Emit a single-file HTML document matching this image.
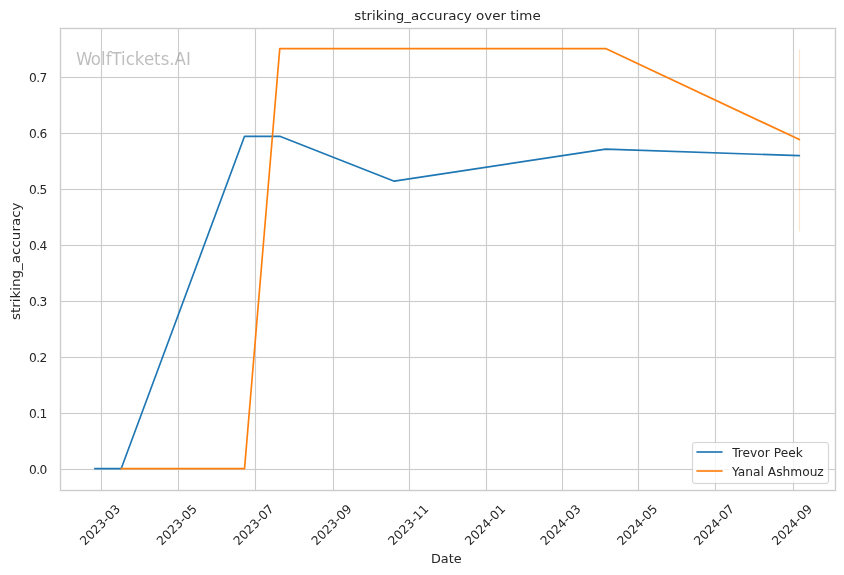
<!DOCTYPE html>
<html lang="en">
<head>
<meta charset="utf-8">
<title>striking_accuracy over time</title>
<style>
html,body{margin:0;padding:0;background:#fff;overflow:hidden;}
svg{display:block;}
text{font-family:"DejaVu Sans","Liberation Sans",sans-serif;fill:#262626;}
.t{font-size:12.222px;}
.l{font-size:13.15px;}
.y{letter-spacing:-0.5px;}
.g{fill:#ccc;shape-rendering:crispEdges;}
.h{fill:#ccc;fill-opacity:0.06;shape-rendering:crispEdges;}
.ln{fill:none;stroke-width:1.667;stroke-linecap:round;stroke-linejoin:round;}
</style>
</head>
<body>
<svg width="844" height="575" viewBox="0 0 844 575">
<rect x="0" y="0" width="844" height="575" fill="#ffffff"/>
<g class="h">
<rect x="100" y="29" width="3" height="461"/>
<rect x="177" y="29" width="3" height="461"/>
<rect x="254" y="29" width="3" height="461"/>
<rect x="332" y="29" width="3" height="461"/>
<rect x="408" y="29" width="3" height="461"/>
<rect x="485" y="29" width="3" height="461"/>
<rect x="561" y="29" width="3" height="461"/>
<rect x="637" y="29" width="3" height="461"/>
<rect x="714" y="29" width="3" height="461"/>
<rect x="792" y="29" width="3" height="461"/>
<rect x="61" y="468" width="774" height="3"/>
<rect x="61" y="412" width="774" height="3"/>
<rect x="61" y="356" width="774" height="3"/>
<rect x="61" y="300" width="774" height="3"/>
<rect x="61" y="244" width="774" height="3"/>
<rect x="61" y="188" width="774" height="3"/>
<rect x="61" y="132" width="774" height="3"/>
<rect x="61" y="76" width="774" height="3"/>
</g>
<g class="g">
<rect x="101" y="29" width="1" height="461"/>
<rect x="178" y="29" width="1" height="461"/>
<rect x="255" y="29" width="1" height="461"/>
<rect x="333" y="29" width="1" height="461"/>
<rect x="409" y="29" width="1" height="461"/>
<rect x="486" y="29" width="1" height="461"/>
<rect x="562" y="29" width="1" height="461"/>
<rect x="638" y="29" width="1" height="461"/>
<rect x="715" y="29" width="1" height="461"/>
<rect x="793" y="29" width="1" height="461"/>
<rect x="61" y="469" width="774" height="1"/>
<rect x="61" y="413" width="774" height="1"/>
<rect x="61" y="357" width="774" height="1"/>
<rect x="61" y="301" width="774" height="1"/>
<rect x="61" y="245" width="774" height="1"/>
<rect x="61" y="189" width="774" height="1"/>
<rect x="61" y="133" width="774" height="1"/>
<rect x="61" y="77" width="774" height="1"/>
</g>
<g class="t">
<text transform="translate(85.00 545.88) rotate(-45)">2023-03</text>
<text transform="translate(161.74 545.88) rotate(-45)">2023-05</text>
<text transform="translate(238.49 545.88) rotate(-45)">2023-07</text>
<text transform="translate(316.49 545.88) rotate(-45)">2023-09</text>
<text transform="translate(393.23 545.88) rotate(-45)">2023-11</text>
<text transform="translate(469.98 545.88) rotate(-45)">2024-01</text>
<text transform="translate(545.47 545.88) rotate(-45)">2024-03</text>
<text transform="translate(622.21 545.88) rotate(-45)">2024-05</text>
<text transform="translate(698.96 545.88) rotate(-45)">2024-07</text>
<text transform="translate(776.96 545.88) rotate(-45)">2024-09</text>
<text class="y" text-anchor="end" x="46.82" y="474.32">0.0</text>
<text class="y" text-anchor="end" x="46.82" y="418.32">0.1</text>
<text class="y" text-anchor="end" x="46.82" y="362.32">0.2</text>
<text class="y" text-anchor="end" x="46.82" y="306.32">0.3</text>
<text class="y" text-anchor="end" x="46.82" y="250.32">0.4</text>
<text class="y" text-anchor="end" x="46.82" y="194.32">0.5</text>
<text class="y" text-anchor="end" x="46.82" y="138.32">0.6</text>
<text class="y" text-anchor="end" x="46.82" y="82.32">0.7</text>
</g>
<text class="l" text-anchor="middle" transform="translate(446.25 563.41) scale(0.975 1)">Date</text>
<text class="l" text-anchor="middle" transform="translate(20.23 261.26) rotate(-90) scale(1.024 1)">striking_accuracy</text>
<rect x="799" y="49.5" width="1" height="182" fill="#ff7f0e" fill-opacity="0.192"/>
<rect x="798" y="49.5" width="3" height="182" fill="#ff7f0e" fill-opacity="0.012"/>
<polyline class="ln" stroke="#1f77b4" points="94.82,468.57 121.24,468.57 244.54,136.33 279.77,136.33 394.25,181.18 605.62,149.15 799.37,155.65"/>
<polyline class="ln" stroke="#ff7f0e" points="121.24,468.57 244.54,468.57 279.77,48.57 605.62,48.57 799.37,139.57"/>
<rect x="60.5" y="28.5" width="775" height="462" fill="none" stroke="#ccc" stroke-opacity="0.2" stroke-width="3" shape-rendering="crispEdges"/>
<rect x="60.5" y="28.5" width="775" height="462" fill="none" stroke="#ccc" stroke-width="1" shape-rendering="crispEdges"/>
<text transform="translate(76.00 65.04) scale(0.984 1)" style="font-size:16.9px;fill:#808080;opacity:0.5">W<tspan dx="-1.6">olfTickets.AI</tspan></text>
<text class="l" text-anchor="middle" transform="translate(447.45 20.39) scale(1.024 1)">striking_accuracy over time</text>
<g>
<rect x="692.5" y="442.5" width="136" height="41" rx="2.4" ry="2.4" fill="#ffffff" fill-opacity="0.8" stroke="#cccccc" stroke-opacity="0.8" stroke-width="1"/>
<rect x="692.5" y="442.5" width="136" height="41" rx="2.4" ry="2.4" fill="none" stroke="#cccccc" stroke-opacity="0.06" stroke-width="3"/>
<line stroke="#1f77b4" stroke-width="2" stroke-opacity="0.835" x1="696.42" y1="452" x2="722.58" y2="452"/>
<line stroke="#ff7f0e" stroke-width="2" stroke-opacity="0.835" x1="696.42" y1="471" x2="722.58" y2="471"/>
<text class="t" x="732.15" y="457.33">Trevor Peek</text>
<text class="t" x="732.00" y="476.32">Yanal Ashmouz</text>
</g>
</svg>
</body>
</html>
